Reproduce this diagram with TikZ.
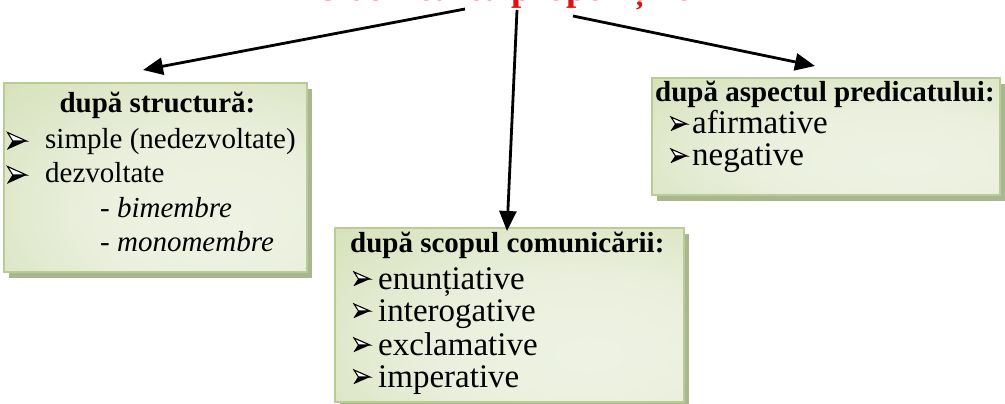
\documentclass[tikz,border=0pt]{standalone}
\usepackage{fontspec}
\setmainfont{Liberation Serif}
\usetikzlibrary{arrows.meta,shadows}
\definecolor{boxedge}{RGB}{185,205,145}
\definecolor{shadowc}{RGB}{168,182,148}
\definecolor{titlered}{RGB}{222,16,16}
\pgfdeclareradialshading{boxshade}{\pgfpoint{12bp}{-12bp}}{rgb(0bp)=(0.93,0.95,0.89);rgb(20bp)=(0.92,0.94,0.87);rgb(60bp)=(0.79,0.85,0.65);rgb(100bp)=(0.79,0.85,0.65)}
\tikzset{
  box/.style={draw=boxedge, line width=1.5pt, shading=boxshade, inner sep=0pt, outer sep=0pt,
    anchor=north west, general shadow={fill=shadowc, shadow xshift=5pt, shadow yshift=-6pt}},
  hd/.style={font=\bfseries\fontsize{29}{32}\selectfont, inner sep=0pt},
  itA/.style={font=\fontsize{29}{32}\selectfont, inner sep=0pt, anchor=base west},
  itB/.style={font=\fontsize{33}{36}\selectfont, inner sep=0pt, anchor=base west},
  arr/.style={line width=2.8pt, -{Triangle[length=20pt,width=17pt]}},
  bullet/.pic={
    \draw[line width=1.1pt, line join=miter, fill=white] (-0.5,-0.5) -- (0.5,0) -- (-0.22,0) -- cycle;
    \fill[line join=miter] (-0.22,0) -- (0.5,0) -- (-0.5,0.5) -- cycle;
    \draw[line width=0.8pt] (-0.5,0.5) -- (-0.22,0);
  },
}
\begin{document}
\begin{tikzpicture}[x=1pt,y=-1pt]
\useasboundingbox (0,0) rectangle (1005,404);
\clip (0,0) rectangle (1005,404);
% title
\node[text=titlered, font=\bfseries\fontsize{37}{40}\selectfont, inner sep=0pt, anchor=base] (title) at (512,1) {Clasificarea propozițiilor};
% boxes
\node[box, minimum width=303pt, minimum height=189pt] (b1) at (4,83) {};
\node[box, minimum width=349pt, minimum height=174pt] (b2) at (335,228) {};
\node[box, minimum width=348pt, minimum height=117pt] (b3) at (652,78) {};
% box 1 text
\node[hd, anchor=base] (b1h) at (157.5,113) {după structură:};
\pic[xscale=19, yscale=17] at (17,141) {bullet};
\node[itA] (b1t1) at (45,148) {simple (nedezvoltate)};
\pic[xscale=19, yscale=17] at (17,175) {bullet};
\node[itA] (b1t2) at (45,182) {dezvoltate};
\node[itA] (b1t3) at (100,217) {- \textit{bimembre}};
\node[itA] (b1t4) at (100,251) {- \textit{monomembre}};
% box 2 text
\node[hd, anchor=base west] (b2h) at (350,252) {după scopul comunicării:};
\pic[xscale=16, yscale=14] at (362,279) {bullet};
\node[itB] (b2t1) at (378,289) {enunțiative};
\pic[xscale=16, yscale=14] at (362,311) {bullet};
\node[itB] (b2t2) at (378,321) {interogative};
\pic[xscale=16, yscale=14] at (362,345) {bullet};
\node[itB] (b2t3) at (378,355) {exclamative};
\pic[xscale=16, yscale=14] at (362,377) {bullet};
\node[itB] (b2t4) at (378,387) {imperative};
% box 3 text
\node[hd, anchor=base west] (b3h) at (655,102) {după aspectul predicatului:};
\pic[xscale=16, yscale=14] at (679,124) {bullet};
\node[itB] (b3t1) at (692,133) {afirmative};
\pic[xscale=16, yscale=14] at (679,156) {bullet};
\node[itB] (b3t2) at (692,165) {negative};
% arrows
\coordinate (s1) at (465,9);
\coordinate (s2) at (517,10);
\coordinate (s3) at (573,16);
\coordinate (e1) at (143,70);
\coordinate (e2) at (507,231);
\coordinate (e3) at (815,66);
\draw[arr] (s1) -- (e1);
\draw[arr] (s2) -- (e2);
\draw[arr] (s3) -- (e3);
\end{tikzpicture}
\end{document}
